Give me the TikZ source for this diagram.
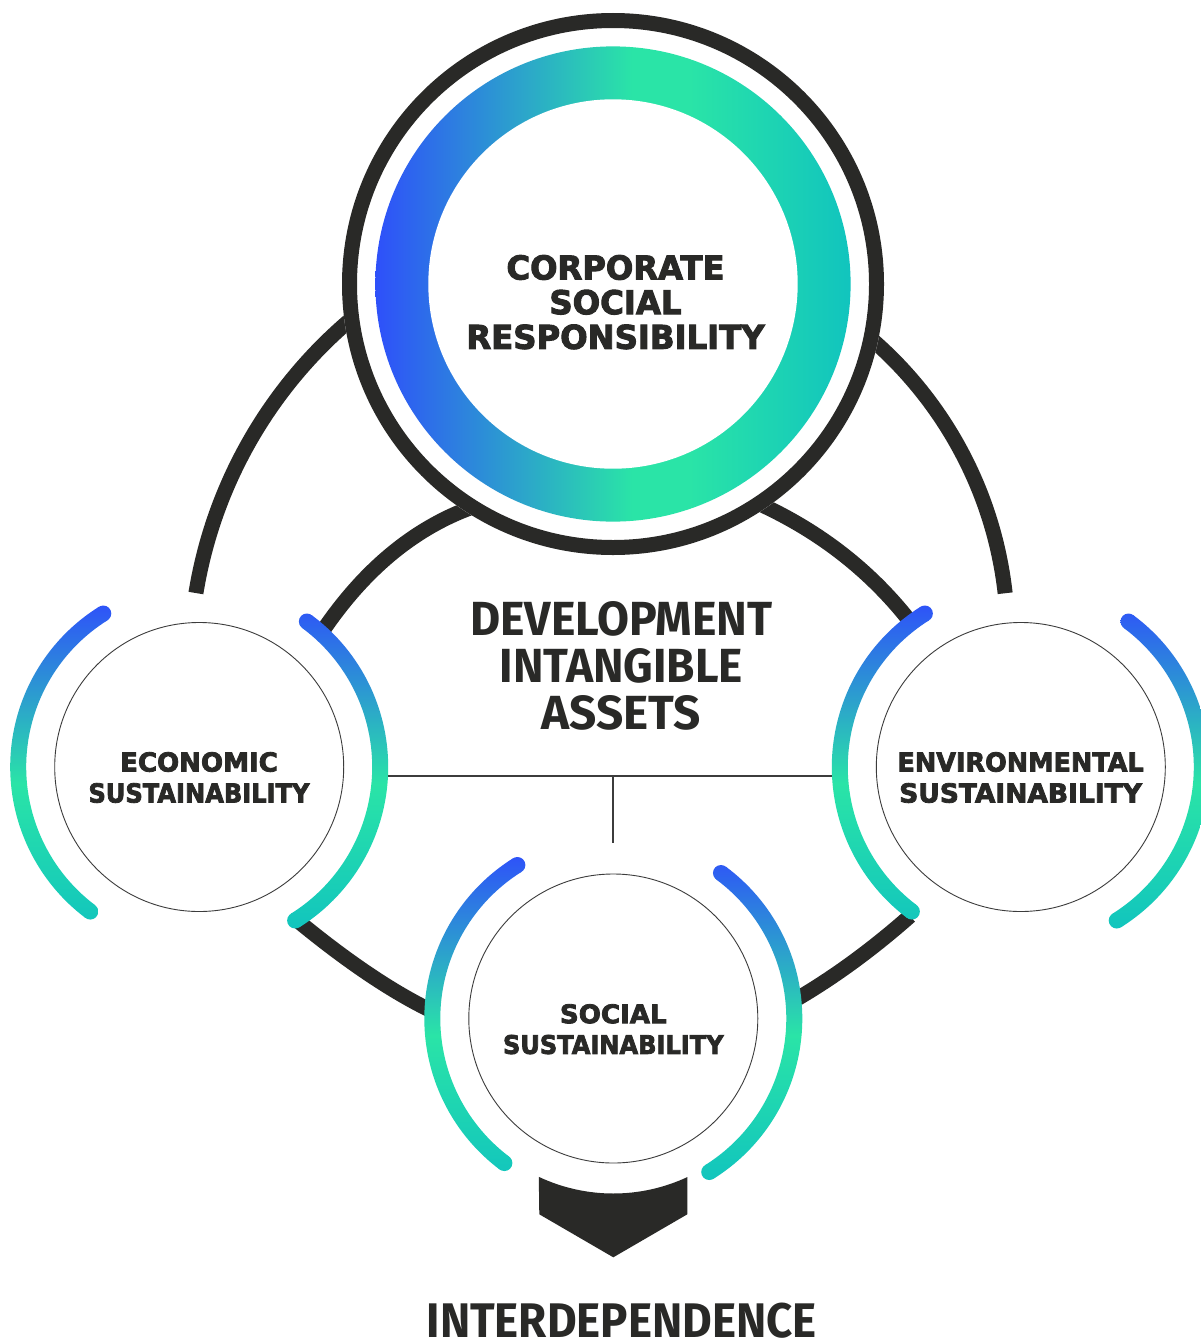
\documentclass[tikz,border=0pt]{standalone}
\usepackage{fontspec}
\usepackage{graphicx}
\usetikzlibrary{calc}
\newfontfamily\labfont[BoldFeatures={FakeBold=3}]{DejaVu Sans}
\newfontfamily\condfont{Fira Sans}
\definecolor{dk}{RGB}{41,41,39}
\definecolor{gBlue}{RGB}{46,80,250}
\definecolor{gGreen}{RGB}{42,228,167}
\definecolor{gTeal}{RGB}{17,196,190}
\definecolor{thingray}{RGB}{60,60,60}
\pgfdeclareverticalshading{arcgrad}{100bp}{color(0bp)=(gTeal); color(25bp)=(gTeal); color(47.5bp)=(gGreen); color(75bp)=(gBlue); color(100bp)=(gBlue)}
\pgfdeclarehorizontalshading{ringgrad}{100bp}{color(0bp)=(gBlue); color(25bp)=(gBlue); color(52bp)=(gGreen); color(58bp)=(gGreen); color(75bp)=(gTeal); color(100bp)=(gTeal)}
\newcommand\gradarc[3]{%
  \begin{scope}
    \clip ([shift={(#2:189)}]#1) arc[start angle=#2,end angle=#3,radius=189]
      -- ([shift={(#3:173)}]#1) arc[start angle=#3,end angle=#2,radius=173] -- cycle;
    \shade[shading=arcgrad] ([shift={(-200,166)}]#1) rectangle ([shift={(200,-166)}]#1);
  \end{scope}
  \foreach \ang in {#2,#3}{%
    \begin{scope}
      \clip ([shift={(\ang:181)}]#1) circle[radius=8];
      \shade[shading=arcgrad] ([shift={(-200,166)}]#1) rectangle ([shift={(200,-166)}]#1);
    \end{scope}}%
}
\begin{document}
\begin{tikzpicture}[x=1pt,y=1pt,
  darkline/.style={draw=dk,line width=15pt},
  thinline/.style={draw=thingray,line width=1.2pt},
  thincirc/.style={circle,draw=thingray,line width=0.9pt,fill=white,minimum size=289pt,inner sep=0pt},
  labtxt/.style={font=\labfont\bfseries\fontsize{12}{31}\selectfont,text=dk,inner sep=0pt,align=center},
  bigtxt/.style={font=\condfont\bfseries\fontsize{12}{47}\selectfont,text=dk,inner sep=0pt,align=center}]
\useasboundingbox (0,0) rectangle (1201,-1338);
\fill[white] (0,0) rectangle (1201,-1338);

\coordinate (top) at (613,-284);
\coordinate (eco) at (199.2,-767);
\coordinate (env) at (1020.8,-767);
\coordinate (soc) at (613.3,-1018.5);

% outer big arcs
\coordinate (oL) at ($(644,-666)+(170.75:454)$);
\draw[darkline] (oL) arc[start angle=170.75,end angle=118,radius=454];
\coordinate (oR) at ($(613.6,-637)+(6.38:394)$);
\draw[darkline] (oR) arc[start angle=6.38,end angle=62,radius=394];

% inner segments
\coordinate (s1a) at (470,-508);  \coordinate (s1b) at (322,-632);
\coordinate (s2a) at (762,-505);  \coordinate (s2b) at (912,-624);
\coordinate (s3a) at (298,-921);  \coordinate (s3b) at (434,-1012);
\coordinate (s4a) at (795,-1000); \coordinate (s4b) at (910,-916);
\draw[darkline] (s1a) .. controls (412.7,-529.3) and (363.3,-570.7) .. (s1b);
\draw[darkline] (s2a) .. controls (822.7,-533.3) and (872.7,-573) .. (s2b);
\draw[darkline] (s3a) .. controls (348.7,-962.7) and (394,-993) .. (s3b);
\draw[darkline] (s4a) .. controls (834,-977.3) and (872.3,-949.3) .. (s4b);

% top circle
\fill[white] (top) circle[radius=271];
\draw[dk,line width=15pt] (top) circle[radius=263.5];
\shade[shading=ringgrad] (top) circle[radius=237.6];
\node[circle,fill=white,minimum size=369.4pt,inner sep=0pt] (csr) at (top) {};

% small circles
\node[thincirc] (ecoC) at (eco) {};
\node[thincirc] (envC) at (env) {};
\node[thincirc] (socC) at (soc) {};

% gradient arcs
\gradarc{eco}{122}{233}
\gradarc{eco}{-58}{53.5}
\gradarc{env}{122}{233}
\gradarc{env}{-58}{53.5}
\gradarc{soc}{122}{233}
\gradarc{soc}{-58}{53.5}

% thin connectors
\coordinate (hL) at (388,-776);
\coordinate (hR) at (832,-776);
\coordinate (hM) at (613,-776);
\coordinate (vB) at (613,-843);
\draw[thinline] (hL) -- (hR);
\draw[thinline] (hM) -- (vB);

% chevron
\fill[dk] ([shift={(244.8:175)}]soc) arc[start angle=244.8,end angle=295,radius=175]
  -- (687.3,-1214.3) -- (613.3,-1257.3) -- (539.3,-1214.3) -- cycle;

% texts
\node[labtxt,font=\labfont\bfseries\fontsize{12}{34.7}\selectfont] (csrT) at (615.5,-302.2)
  {\resizebox{218pt}{24.3pt}{CORPORATE}\\\resizebox{132.2pt}{24.3pt}{SOCIAL}\\\resizebox{298.2pt}{24.3pt}{RESPONSIBILITY}};
\node[labtxt] (ecoT) at (199,-777.5)
  {\resizebox{157.6pt}{19.4pt}{ECONOMIC}\\\resizebox{221pt}{19.4pt}{SUSTAINABILITY}};
\node[labtxt] (envT) at (1020.6,-777.5)
  {\resizebox{246.3pt}{19.4pt}{ENVIRONMENTAL}\\\resizebox{242.7pt}{19.4pt}{SUSTAINABILITY}};
\node[labtxt,font=\labfont\bfseries\fontsize{12}{30.7}\selectfont] (socT) at (613.3,-1029.2)
  {\resizebox{106.7pt}{19pt}{SOCIAL}\\\resizebox{220.6pt}{19pt}{SUSTAINABILITY}};
\node[bigtxt] (devT) at (621.3,-665.8)
  {\resizebox{302.2pt}{34pt}{DEVELOPMENT}\\\resizebox{243.3pt}{34pt}{INTANGIBLE}\\\resizebox{159.1pt}{34pt}{ASSETS}};
\node[bigtxt,anchor=north] (interT) at (621.7,-1303)
  {\resizebox{390pt}{34.5pt}{INTERDEPENDENCE}};
\end{tikzpicture}
\end{document}
